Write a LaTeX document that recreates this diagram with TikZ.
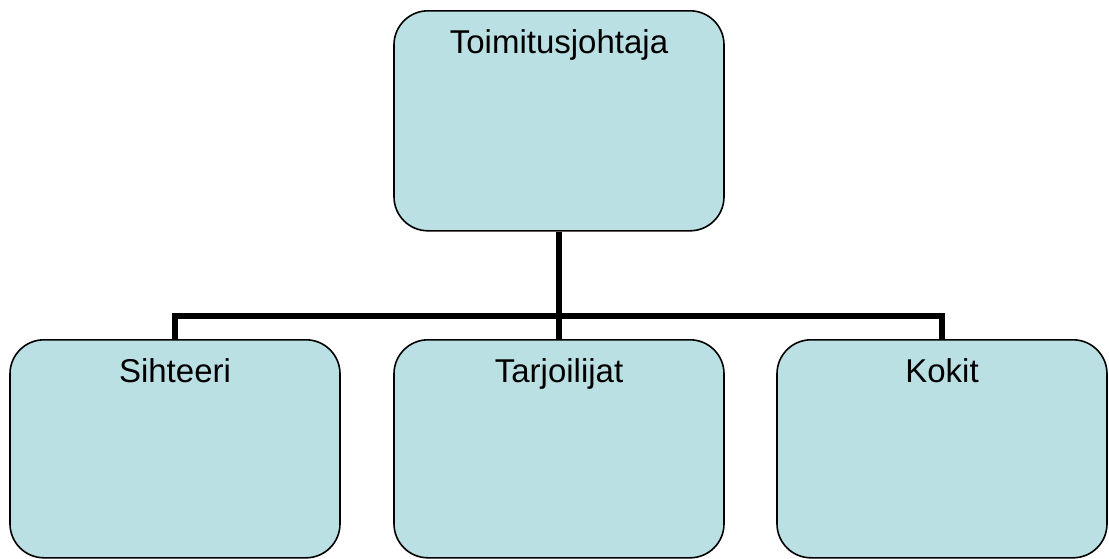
\documentclass[tikz,border=0pt]{standalone}
\usepackage{fontspec}
\setmainfont{Liberation Sans}
\begin{document}
\begin{tikzpicture}[x=1pt,y=-1pt,
  orgbox/.style={draw=black, line width=1.6pt, fill=boxfill, rounded corners=34pt,
    inner sep=0pt, font=\fontsize{33}{40}\selectfont},
  conn/.style={draw=black, line width=6pt, line join=miter}]
  \definecolor{boxfill}{HTML}{BBE0E3}
  \useasboundingbox (0,0) rectangle (1109,558);
  % junction of the connector bar
  \coordinate (bus) at (559,316);
  % the four boxes, titles set at the top
  \node[orgbox, anchor=north] (ceo) at (559,10)
    {\parbox[t][220pt][t]{330pt}{\centering\rule{0pt}{43pt}Toimitusjohtaja}};
  \node[orgbox, anchor=north] (sih) at (175,339)
    {\parbox[t][218pt][t]{330pt}{\centering\rule{0pt}{43pt}Sihteeri}};
  \node[orgbox, anchor=north] (tar) at (559,339)
    {\parbox[t][218pt][t]{330pt}{\centering\rule{0pt}{43pt}Tarjoilijat}};
  \node[orgbox, anchor=north] (kok) at (942,339)
    {\parbox[t][218pt][t]{330pt}{\centering\rule{0pt}{43pt}Kokit}};
  % connectors
  \draw[conn] (ceo.south) -- (tar.north);
  \draw[conn] (sih.north) |- (bus) -| (kok.north);
\end{tikzpicture}
\end{document}
